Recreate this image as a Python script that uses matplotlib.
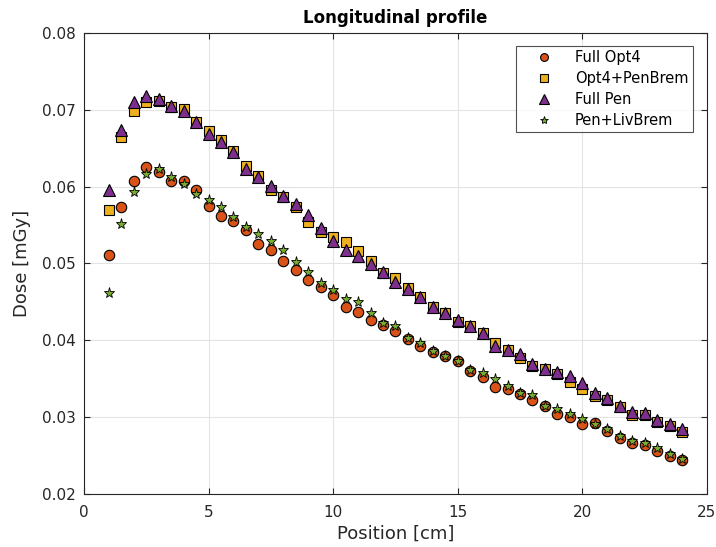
import numpy as np
import matplotlib
matplotlib.use("Agg")
import matplotlib.pyplot as plt

# Position along the beam axis [cm]
position = np.arange(1.0, 24.01, 0.5)

# Dose [mGy] for each physics list
full_opt4 = [0.0511, 0.0574, 0.0607, 0.0626, 0.0619, 0.0608, 0.0608, 0.0595, 0.0575, 0.0562,
             0.0555, 0.0543, 0.0526, 0.0518, 0.0503, 0.0492, 0.0479, 0.0470, 0.0459, 0.0444,
             0.0437, 0.0427, 0.0420, 0.0412, 0.0402, 0.0392, 0.0385, 0.0380, 0.0373, 0.0360,
             0.0352, 0.0339, 0.0336, 0.0330, 0.0322, 0.0314, 0.0304, 0.0300, 0.0291, 0.0293,
             0.0282, 0.0273, 0.0267, 0.0264, 0.0256, 0.0249, 0.0244]
opt4_penbrem = [0.0570, 0.0664, 0.0699, 0.0710, 0.0711, 0.0704, 0.0701, 0.0684, 0.0672, 0.0661,
                0.0646, 0.0627, 0.0614, 0.0595, 0.0586, 0.0573, 0.0554, 0.0541, 0.0534, 0.0528,
                0.0516, 0.0503, 0.0487, 0.0481, 0.0468, 0.0456, 0.0444, 0.0436, 0.0424, 0.0419,
                0.0409, 0.0396, 0.0387, 0.0377, 0.0367, 0.0363, 0.0356, 0.0346, 0.0337, 0.0328,
                0.0322, 0.0313, 0.0303, 0.0303, 0.0294, 0.0289, 0.0281]
full_pen = [0.0595, 0.0674, 0.0710, 0.0718, 0.0714, 0.0705, 0.0699, 0.0684, 0.0668, 0.0658,
            0.0645, 0.0623, 0.0613, 0.0601, 0.0588, 0.0578, 0.0563, 0.0546, 0.0529, 0.0517,
            0.0510, 0.0499, 0.0489, 0.0476, 0.0467, 0.0456, 0.0444, 0.0436, 0.0427, 0.0419,
            0.0409, 0.0392, 0.0388, 0.0382, 0.0369, 0.0363, 0.0359, 0.0353, 0.0345, 0.0332,
            0.0325, 0.0314, 0.0307, 0.0306, 0.0296, 0.0291, 0.0285]
pen_livbrem = [0.0461, 0.0551, 0.0593, 0.0616, 0.0623, 0.0612, 0.0604, 0.0591, 0.0583, 0.0573,
               0.0560, 0.0547, 0.0539, 0.0529, 0.0518, 0.0502, 0.0489, 0.0474, 0.0465, 0.0454,
               0.0450, 0.0435, 0.0422, 0.0418, 0.0403, 0.0397, 0.0386, 0.0380, 0.0373, 0.0362,
               0.0358, 0.0350, 0.0341, 0.0331, 0.0329, 0.0315, 0.0311, 0.0304, 0.0297, 0.0291,
               0.0284, 0.0276, 0.0269, 0.0266, 0.0260, 0.0252, 0.0246]

labels = ['Full Opt4', 'Opt4+PenBrem', 'Full Pen', 'Pen+LivBrem']

fig = plt.figure(figsize=(7.16, 5.47), dpi=100)
ax = fig.add_axes([0.1173, 0.0969, 0.870, 0.8428])

ax.plot(position, full_opt4, 'o', color='#D95319', mec='black', mew=0.8, ms=7.5, label=labels[0])
ax.plot(position, opt4_penbrem, 's', color='#EDB120', mec='black', mew=0.8, ms=7, label=labels[1])
ax.plot(position, full_pen, '^', color='#7E2F8E', mec='black', mew=0.8, ms=9, label=labels[2])
ax.plot(position, pen_livbrem, '*', color='#77AC30', mec='black', mew=0.6, ms=8, label=labels[3])

ax.set_xlim(0, 25)
ax.set_ylim(0.02, 0.08)
ax.set_xticks([0, 5, 10, 15, 20, 25])
ax.set_yticks([0.02, 0.03, 0.04, 0.05, 0.06, 0.07, 0.08])
ax.set_yticklabels(['0.02', '0.03', '0.04', '0.05', '0.06', '0.07', '0.08'])

ax.grid(True, color='#e3e3e3', linewidth=0.8)
ax.set_axisbelow(True)
ax.tick_params(direction='in', top=True, right=True, labelsize=11,
               colors='#262626', length=4)
ax.tick_params(axis='x', pad=8)
ax.tick_params(axis='y', pad=6)
for sp in ax.spines.values():
    sp.set_color('#262626')
    sp.set_linewidth(0.8)

ax.set_xlabel('Position [cm]', fontsize=13, color='#262626', labelpad=3)
ax.set_ylabel('Dose [mGy]', fontsize=13, color='#262626', labelpad=8)
ax.set_title('Longitudinal profile', fontsize=12, fontweight='bold', pad=7)

leg = ax.legend(loc='upper right', fontsize=10.5, frameon=True, fancybox=False,
                edgecolor='#262626', handlelength=3.3, handletextpad=0.45,
                borderpad=0.3, labelspacing=0.4, markerscale=0.75,
                borderaxespad=0, bbox_to_anchor=(0.9775, 0.972))
leg.get_frame().set_linewidth(0.8)

fig.savefig('out.png', dpi=100)
